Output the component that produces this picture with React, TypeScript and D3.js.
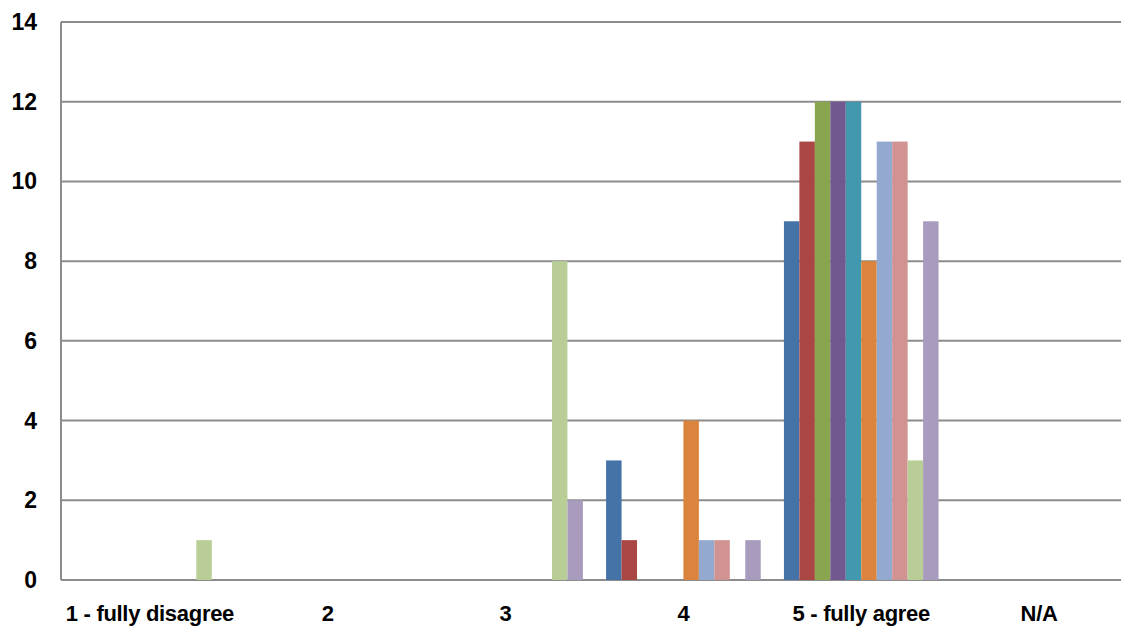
import React from "react";
import * as d3 from "d3";

const categories = ["1 - fully disagree", "2", "3", "4", "5 - fully agree", "N/A"];

const seriesNames = ["S1", "S2", "S3", "S4", "S5", "S6", "S7", "S8", "S9", "S10"];

const seriesColors = [
  "#4572A7",
  "#AA4643",
  "#89A54E",
  "#71588F",
  "#4198AF",
  "#DB843D",
  "#93A9CF",
  "#D19392",
  "#B9CD96",
  "#A99BBD",
];

// values per series, one per category
const s1 = [0, 0, 0, 3, 9, 0];
const s2 = [0, 0, 0, 1, 11, 0];
const s3 = [0, 0, 0, 0, 12, 0];
const s4 = [0, 0, 0, 0, 12, 0];
const s5 = [0, 0, 0, 0, 12, 0];
const s6 = [0, 0, 0, 4, 8, 0];
const s7 = [0, 0, 0, 1, 11, 0];
const s8 = [0, 0, 0, 1, 11, 0];
const s9 = [1, 0, 8, 0, 3, 0];
const s10 = [0, 0, 2, 1, 9, 0];

const seriesValues = [s1, s2, s3, s4, s5, s6, s7, s8, s9, s10];

const yTicks = [0, 2, 4, 6, 8, 10, 12, 14];

const width = 1121;
const height = 630;
const marginLeft = 61;
const plotRight = 1128;
const marginTop = 22;
const plotBottom = 580;

const fontFamily = "'Liberation Sans', Arial, sans-serif";

const App = () => {
  const x = d3
    .scaleBand()
    .domain(categories)
    .range([marginLeft, plotRight])
    .paddingInner(0)
    .paddingOuter(0);

  const xInner = d3
    .scaleBand()
    .domain(seriesNames)
    .range([0, x.bandwidth()])
    .paddingOuter(0.75)
    .paddingInner(0);

  const y = d3.scaleLinear().domain([0, 14]).range([plotBottom, marginTop]);

  const gridColor = "#8c8c8c";

  return (
    <svg
      width={width}
      height={height}
      style={{ position: "absolute", left: 0, top: 0, background: "#fff" }}
    >
      <g>
        {yTicks.map((t) => (
          <line
            key={t}
            x1={marginLeft}
            x2={width}
            y1={y(t)}
            y2={y(t)}
            stroke={gridColor}
            strokeWidth={2}
          />
        ))}
        <line
          x1={marginLeft}
          x2={marginLeft}
          y1={marginTop}
          y2={plotBottom}
          stroke={gridColor}
          strokeWidth={2}
        />
      </g>

      <g>
        {seriesValues.map((vals, si) => (
          <g key={si} fill={seriesColors[si]}>
            {vals.map((v, ci) =>
              v > 0 ? (
                <rect
                  key={ci}
                  x={Number(x(categories[ci])) + Number(xInner(seriesNames[si]))}
                  y={y(v)}
                  width={xInner.bandwidth()}
                  height={y(0) - y(v)}
                />
              ) : null
            )}
          </g>
        ))}
      </g>

      <g fontFamily={fontFamily} fontWeight="bold" fill="#000">
        {yTicks.map((t) => (
          <text key={t} x={37} y={y(t)} dy="0.35em" textAnchor="end" fontSize={23}>
            {t}
          </text>
        ))}
        {categories.map((c) => (
          <text
            key={c}
            x={Number(x(c)) + x.bandwidth() / 2}
            y={621}
            textAnchor="middle"
            fontSize={22}
            letterSpacing={-0.3}
          >
            {c}
          </text>
        ))}
      </g>
    </svg>
  );
};

export default App;
